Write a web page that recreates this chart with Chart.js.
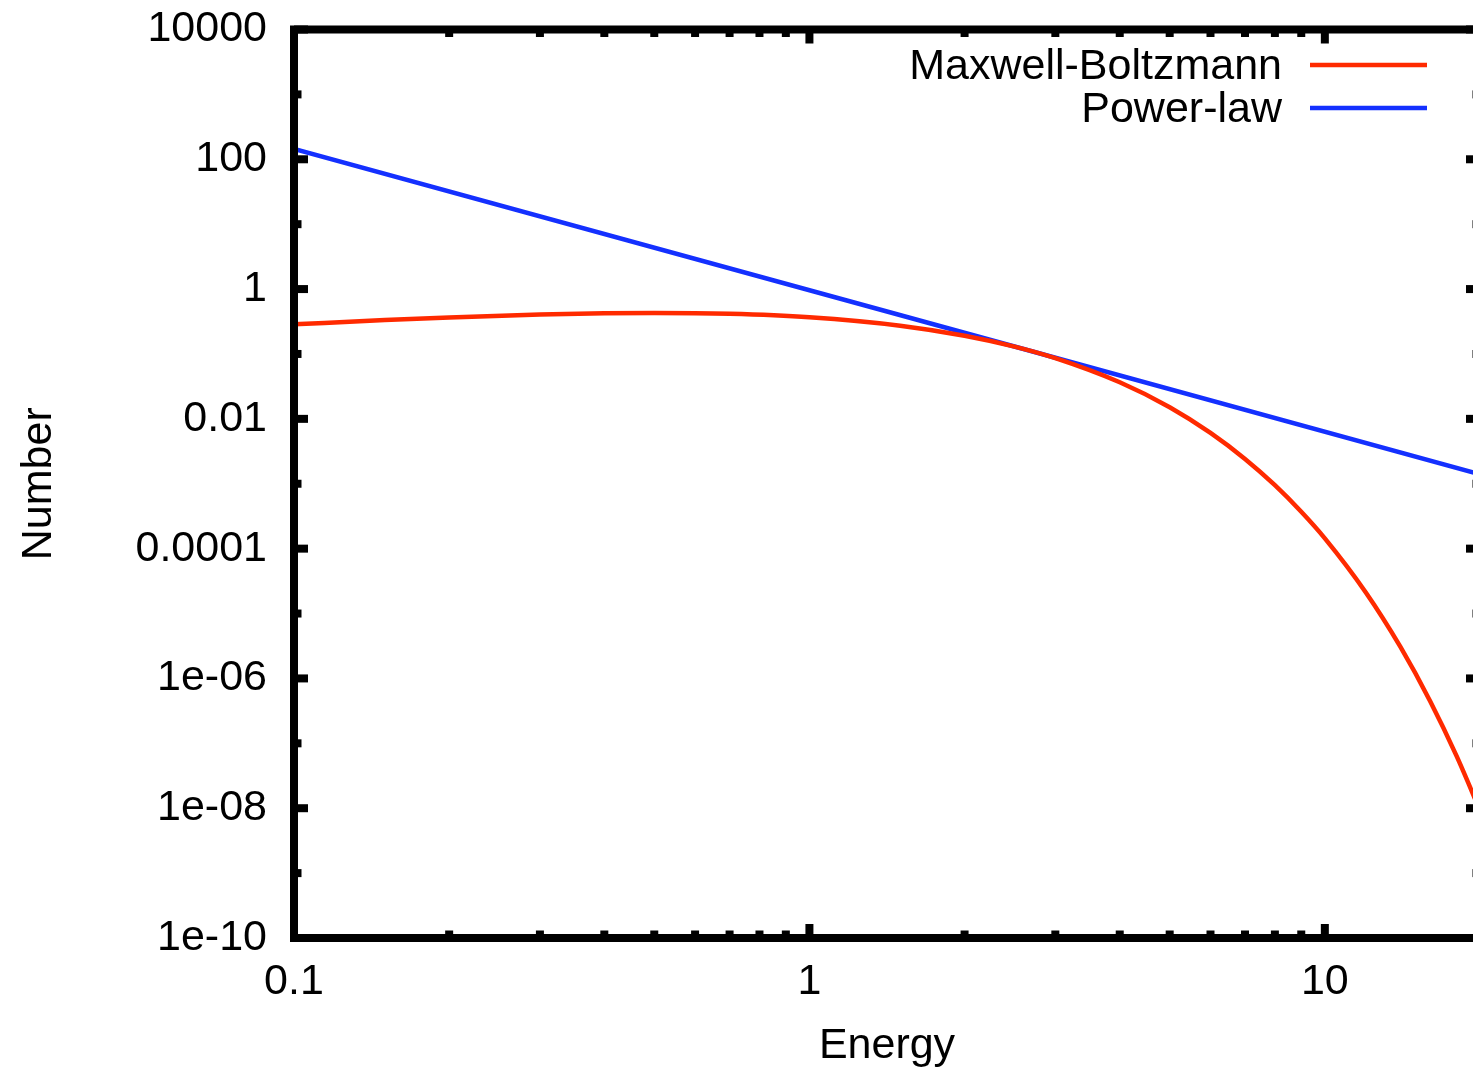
<!DOCTYPE html>
<html>
<head>
<meta charset="utf-8">
<title>Energy spectrum</title>
<script src="https://cdn.jsdelivr.net/npm/chart.js@4.4.1/dist/chart.umd.min.js"></script>
<style>
  html, body { margin: 0; padding: 0; background: #fff; overflow: hidden; }
  #wrap { width: 1500px; height: 1068px; }
</style>
</head>
<body>
<div id="wrap"><canvas id="spectrum" width="1500" height="1068"></canvas></div>
<script>
// Maxwell-Boltzmann curve samples
const mbEnergy = [0.1, 0.15, 0.2, 0.3, 0.4, 0.5, 0.7, 1, 1.5, 2, 2.5, 3, 4, 5, 6, 7, 8, 9, 10, 12, 14, 16, 18, 20];
const mbNumber = [0.286, 0.333, 0.366, 0.406, 0.424, 0.429, 0.416, 0.368, 0.273, 0.191, 0.130, 0.0862,
  0.0366, 0.0151, 0.00607, 0.00241, 0.000949, 0.00037, 0.000144, 2.13e-5, 3.11e-6, 4.5e-7, 6.46e-8, 9.2e-9];

// Power-law is a straight line on log-log axes
const plEnergy = [0.1, 20];
const plNumber = [145, 0.0014];

const seriesLabels = ['Maxwell-Boltzmann', 'Power-law'];
const seriesColors = ['#ff2a00', '#1430ff'];

const xTicks = [0.1, 1, 10];
const xTickLabels = ['0.1', '1', '10'];
const xMinorTicks = [0.2, 0.3, 0.4, 0.5, 0.6, 0.7, 0.8, 0.9, 2, 3, 4, 5, 6, 7, 8, 9];
const yTicks = [1e4, 1e2, 1, 1e-2, 1e-4, 1e-6, 1e-8, 1e-10];
const yTickLabels = ['10000', '100', '1', '0.01', '0.0001', '1e-06', '1e-08', '1e-10'];
const yMinorTicks = [1e3, 10, 0.1, 1e-3, 1e-5, 1e-7, 1e-9];

const FONT = '"Liberation Sans", Arial, Helvetica, sans-serif';
const FS = 43;
Chart.defaults.font.family = FONT;
Chart.defaults.font.size = FS;
Chart.defaults.color = '#000';

const toPoints = (xs, ys) => xs.map((x, i) => ({ x: x, y: ys[i] }));

// Border box plus inward tick marks on all four sides
const framePlugin = {
  id: 'frame',
  afterDatasetsDraw(chart) {
    const { ctx, chartArea: a, scales } = chart;
    const bw = 8;
    ctx.save();
    ctx.strokeStyle = '#000';
    ctx.lineWidth = bw;
    ctx.lineCap = 'butt';

    const tick = (x1, y1, x2, y2) => {
      ctx.beginPath();
      ctx.moveTo(x1, y1);
      ctx.lineTo(x2, y2);
      ctx.stroke();
    };
    const major = bw / 2 + 10;
    const minor = bw / 2 + 3.5;

    xTicks.forEach(v => {
      const px = scales.x.getPixelForValue(v);
      tick(px, a.bottom, px, a.bottom - major);
      tick(px, a.top, px, a.top + major);
    });
    xMinorTicks.forEach(v => {
      const px = scales.x.getPixelForValue(v);
      tick(px, a.bottom, px, a.bottom - minor);
      tick(px, a.top, px, a.top + minor);
    });
    yTicks.forEach(v => {
      const py = scales.y.getPixelForValue(v);
      tick(a.left, py, a.left + major, py);
      tick(a.right, py, a.right - major, py);
    });
    yMinorTicks.forEach(v => {
      const py = scales.y.getPixelForValue(v);
      tick(a.left, py, a.left + minor, py);
      tick(a.right, py, a.right - minor, py);
    });

    ctx.strokeRect(a.left, a.top, a.right - a.left, a.bottom - a.top);
    ctx.restore();
  },
  afterDraw(chart) {
    // key in the top right corner: label text, then a line sample
    const { ctx } = chart;
    ctx.save();
    ctx.font = FS + 'px ' + FONT;
    ctx.textAlign = 'right';
    ctx.textBaseline = 'middle';
    chart.data.datasets.forEach((ds, i) => {
      const y = 65 + i * 43;
      ctx.fillStyle = '#000';
      ctx.fillText(ds.label, 1282, y + 2);
      ctx.strokeStyle = ds.borderColor;
      ctx.lineWidth = 4.5;
      ctx.beginPath();
      ctx.moveTo(1310, y);
      ctx.lineTo(1427, y);
      ctx.stroke();
    });
    ctx.restore();
  }
};

const lineStyle = (i) => ({
  label: seriesLabels[i],
  borderColor: seriesColors[i],
  backgroundColor: seriesColors[i],
  borderWidth: 4.5,
  pointRadius: 0,
  showLine: true,
  fill: false,
  cubicInterpolationMode: 'monotone'
});

new Chart(document.getElementById('spectrum'), {
  type: 'scatter',
  data: {
    datasets: [
      Object.assign(lineStyle(0), { data: toPoints(mbEnergy, mbNumber) }),
      Object.assign(lineStyle(1), { data: toPoints(plEnergy, plNumber) })
    ]
  },
  options: {
    responsive: false,
    animation: false,
    layout: { padding: { top: 29.5, right: 20, left: 0, bottom: 0 } },
    plugins: {
      legend: { display: false },
      tooltip: { enabled: false }
    },
    scales: {
      x: {
        type: 'logarithmic',
        min: 0.1,
        max: 20,
        grid: { display: false, drawTicks: false },
        border: { display: false },
        afterBuildTicks: (axis) => { axis.ticks = xTicks.map(v => ({ value: v })); },
        afterFit: (axis) => {
          axis.height = 130;
          axis.paddingLeft = 0;
          axis.paddingRight = 0;
        },
        ticks: {
          autoSkip: false,
          maxRotation: 0,
          padding: 23,
          font: { size: FS, lineHeight: 1 },
          callback: (value) => xTickLabels[xTicks.indexOf(value)]
        },
        title: {
          display: true,
          text: 'Energy',
          font: { size: FS, lineHeight: 1 },
          padding: { top: 0, bottom: 0 }
        }
      },
      y: {
        type: 'logarithmic',
        min: 1e-10,
        max: 1e4,
        grid: { display: false, drawTicks: false },
        border: { display: false },
        afterBuildTicks: (axis) => { axis.ticks = yTicks.map(v => ({ value: v })); },
        afterFit: (axis) => {
          axis.width = 294;
          axis.paddingTop = 0;
          axis.paddingBottom = 0;
        },
        ticks: {
          autoSkip: false,
          padding: 27,
          font: { size: FS, lineHeight: 1 },
          callback: (value) => yTickLabels[yTicks.indexOf(value)]
        },
        title: {
          display: true,
          text: 'Number',
          font: { size: FS, lineHeight: 1 },
          padding: { top: 18, bottom: 0 }
        }
      }
    }
  },
  plugins: [framePlugin]
});
</script>
</body>
</html>
